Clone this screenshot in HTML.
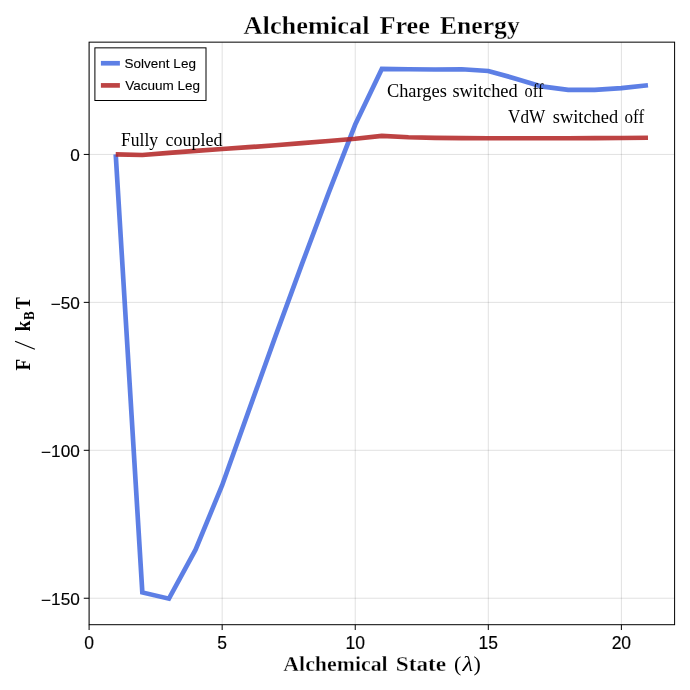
<!DOCTYPE html>
<html><head><meta charset="utf-8"><title>Alchemical Free Energy</title>
<style>
html,body{margin:0;padding:0;background:#fff;}
body{width:690px;height:690px;overflow:hidden;font-family:"Liberation Sans",sans-serif;}
svg{display:block;will-change:transform;}
.sans{font-family:"Liberation Sans",sans-serif;}
.serif{font-family:"Liberation Serif",serif;}
</style></head>
<body>
<svg width="690" height="690" viewBox="0 0 690 690">
<rect width="690" height="690" fill="#ffffff"/>
<!-- grid -->
<g stroke="#000" stroke-opacity="0.12" stroke-width="1" fill="none"><line x1="89.10" y1="42.15" x2="89.10" y2="624.7"/><line x1="222.17" y1="42.15" x2="222.17" y2="624.7"/><line x1="355.24" y1="42.15" x2="355.24" y2="624.7"/><line x1="488.31" y1="42.15" x2="488.31" y2="624.7"/><line x1="621.38" y1="42.15" x2="621.38" y2="624.7"/><line x1="89.1" y1="154.43" x2="674.6" y2="154.43"/><line x1="89.1" y1="302.37" x2="674.6" y2="302.37"/><line x1="89.1" y1="450.30" x2="674.6" y2="450.30"/><line x1="89.1" y1="598.24" x2="674.6" y2="598.24"/></g>
<!-- data lines -->
<g fill="none" stroke-width="4.67" stroke-linejoin="miter" stroke-linecap="butt" stroke-miterlimit="10">
<polyline stroke="rgb(65,105,225)" stroke-opacity="0.85" points="115.71,154.43 142.33,592.41 168.94,598.68 195.56,549.71 222.17,485.21 248.78,410.65 275.40,336.39 302.01,263.90 328.63,192.89 355.24,124.55 381.85,68.92 408.47,69.22 435.08,69.52 461.70,69.22 488.31,70.99 514.92,78.39 541.54,86.38 568.15,89.93 594.77,89.93 621.38,88.16 647.99,85.20"/>
<polyline stroke="rgb(178,34,34)" stroke-opacity="0.85" points="115.71,154.43 142.33,155.02 168.94,152.95 195.56,150.88 222.17,148.96 248.78,147.18 275.40,145.26 302.01,143.19 328.63,140.97 355.24,138.75 381.85,135.88 408.47,137.21 435.08,137.86 461.70,138.16 488.31,138.22 514.92,138.22 541.54,138.22 568.15,138.22 594.77,138.16 621.38,138.01 647.99,137.74"/>
</g>
<!-- annotations -->
<g class="serif" font-size="18.3" fill="#000">
<text x="121.1" y="146.1" textLength="37" lengthAdjust="spacingAndGlyphs">Fully</text>
<text x="165.6" y="146.1" textLength="56.9" lengthAdjust="spacingAndGlyphs">coupled</text>
<text x="386.9" y="96.7" textLength="59.9" lengthAdjust="spacingAndGlyphs">Charges</text>
<text x="452.4" y="96.7" textLength="65.3" lengthAdjust="spacingAndGlyphs">switched</text>
<text x="524.6" y="96.7" textLength="18.8" lengthAdjust="spacingAndGlyphs">off</text>
<text x="508.0" y="123.2" textLength="37.3" lengthAdjust="spacingAndGlyphs">VdW</text>
<text x="552.8" y="123.2" textLength="65.3" lengthAdjust="spacingAndGlyphs">switched</text>
<text x="624.5" y="123.2" textLength="19.6" lengthAdjust="spacingAndGlyphs">off</text>
</g>
<!-- spines -->
<g stroke="#000" stroke-width="1" fill="none">
<rect x="89.1" y="42.15" width="585.50" height="582.55"/>
</g>
<g stroke="#000" stroke-width="1" fill="none"><line x1="89.10" y1="624.7" x2="89.10" y2="630.03"/><line x1="222.17" y1="624.7" x2="222.17" y2="630.03"/><line x1="355.24" y1="624.7" x2="355.24" y2="630.03"/><line x1="488.31" y1="624.7" x2="488.31" y2="630.03"/><line x1="621.38" y1="624.7" x2="621.38" y2="630.03"/><line x1="83.77" y1="154.43" x2="89.1" y2="154.43"/><line x1="83.77" y1="302.37" x2="89.1" y2="302.37"/><line x1="83.77" y1="450.30" x2="89.1" y2="450.30"/><line x1="83.77" y1="598.24" x2="89.1" y2="598.24"/></g>
<!-- tick labels -->
<g class="sans" font-size="17.5" fill="#000" stroke="#000" stroke-width="0.15"><text x="89.10" y="648.8" text-anchor="middle">0</text><text x="222.17" y="648.8" text-anchor="middle">5</text><text x="355.24" y="648.8" text-anchor="middle">10</text><text x="488.31" y="648.8" text-anchor="middle">15</text><text x="621.38" y="648.8" text-anchor="middle">20</text></g>
<g class="sans" font-size="17.2" fill="#000" stroke="#000" stroke-width="0.15"><text x="79.8" y="161" text-anchor="end">0</text><text x="79.8" y="309" text-anchor="end"><tspan dy="1.4">−</tspan><tspan dy="-1.4">50</tspan></text><text x="79.8" y="457" text-anchor="end"><tspan dy="1.4">−</tspan><tspan dy="-1.4">100</tspan></text><text x="79.8" y="605" text-anchor="end"><tspan dy="1.4">−</tspan><tspan dy="-1.4">150</tspan></text></g>
<!-- legend -->
<rect x="94.9" y="47.85" width="111.1" height="52.65" fill="#fff" stroke="#000" stroke-width="1"/>
<line x1="100.9" y1="63.25" x2="119.9" y2="63.25" stroke="rgb(65,105,225)" stroke-opacity="0.85" stroke-width="4.67"/>
<line x1="100.9" y1="85.4" x2="119.9" y2="85.4" stroke="rgb(178,34,34)" stroke-opacity="0.85" stroke-width="4.67"/>
<g class="sans" font-size="13.5" fill="#000" stroke="#000" stroke-width="0.1">
<text x="124.6" y="67.8">Solvent Leg</text>
<text x="125.2" y="89.9">Vacuum Leg</text>
</g>
<!-- title -->
<g class="serif" font-weight="bold" font-size="24.2" fill="#000" stroke="#fff" stroke-width="0.3">
<text x="243.5" y="33.7" textLength="126" lengthAdjust="spacingAndGlyphs">Alchemical</text>
<text x="379.4" y="33.7" textLength="50.5" lengthAdjust="spacingAndGlyphs">Free</text>
<text x="439.8" y="33.7" textLength="80" lengthAdjust="spacingAndGlyphs">Energy</text>
</g>
<!-- x label -->
<g class="serif" font-weight="bold" font-size="20" fill="#000" stroke="#fff" stroke-width="0.3">
<text x="283.3" y="671" textLength="104.4" lengthAdjust="spacingAndGlyphs">Alchemical</text>
<text x="395.7" y="671" textLength="50.5" lengthAdjust="spacingAndGlyphs">State</text>
</g>
<g class="serif" font-size="20.5" fill="#000">
<text x="453.9" y="671" font-size="22">(</text>
<text x="462.6" y="671" font-style="italic" textLength="10.6" lengthAdjust="spacingAndGlyphs">&#955;</text>
<text x="473.6" y="671" font-size="22">)</text>
</g>
<!-- y label -->
<g transform="translate(30.1,370.6) rotate(-90)" class="serif" font-weight="bold" font-size="20.5" fill="#000">
<text x="0" y="0" textLength="11.6" lengthAdjust="spacingAndGlyphs">F</text>
<line x1="21.3" y1="4.8" x2="29.4" y2="-15" stroke="#000" stroke-width="1.2"/>
<text x="39.2" y="0" textLength="10.8" lengthAdjust="spacingAndGlyphs">k</text>
<text x="50.7" y="3.8" font-size="14" textLength="8.7" lengthAdjust="spacingAndGlyphs">B</text>
<text x="61.6" y="0" textLength="11.9" lengthAdjust="spacingAndGlyphs">T</text>
</g>
</svg>
</body></html>
